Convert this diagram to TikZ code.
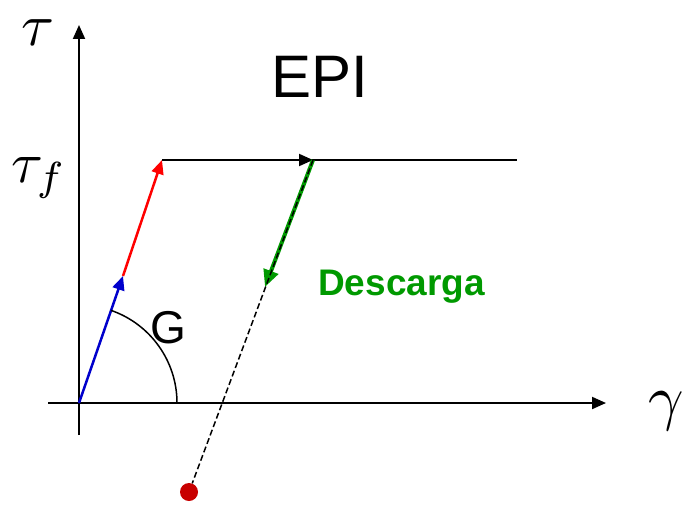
\documentclass[tikz,border=0pt]{standalone}
\usepackage{fontspec}
\setmainfont{Liberation Sans}
\usetikzlibrary{arrows.meta}
\definecolor{verde}{RGB}{0,153,0}
\definecolor{rojo}{RGB}{200,0,0}
\begin{document}
\begin{tikzpicture}[x=1pt, y=-1pt,
	punta/.style={-{Triangle[length=14pt, width=12pt]}},
	eje/.style={line width=2pt, punta},
	tramo/.style={line width=2.5pt, punta}]
	\useasboundingbox (0,0) rectangle (684,505);
	% ejes
	\coordinate (O) at (79,403);
	\coordinate (xini) at (48,403);
	\coordinate (xfin) at (606,403);
	\coordinate (yini) at (79,435);
	\coordinate (yfin) at (79,25);
	\draw[eje] (xini) -- (xfin);
	\draw[eje] (yini) -- (yfin);
	\node[anchor=base, inner sep=0pt, scale=6] (tau) at (38,46) {$\tau$};
	\node[anchor=base west, inner sep=0pt, scale=5.8] (tauf) at (10,182) {$\tau_f$};
	\node[anchor=base west, inner sep=0pt, scale=6.2] (gamma) at (647,418) {$\gamma$};
	% puntos
	\coordinate (A) at (123,276);
	\coordinate (B) at (162,160);
	\coordinate (C) at (313,160);
	\coordinate (D) at (517,160);
	\coordinate (E) at (265,287);
	\node[circle, fill=rojo, minimum size=18pt, inner sep=0pt] (P) at (189,492) {};
	% trayectoria
	\draw[line width=2pt] (B) -- (D);
	\draw[tramo, red] (A) -- (B);
	\draw[tramo, blue!80!black] (O) -- (A);
	\draw[line width=2pt, punta] (B) -- (C);
	\draw[line width=4pt, verde, -{Triangle[length=17pt, width=15pt]}] (C) -- (E);
	\draw[line width=1.5pt, dash pattern=on 6pt off 3pt] (C) -- (P);
	% angulo G
	\draw[line width=1.5pt] (O) ++(98,0) arc[start angle=0, end angle=71, radius=98pt];
	\node[anchor=base] (G) at (168,343) {\fontsize{46}{46}\selectfont G};
	% textos
	\node[anchor=base] (epi) at (320,98) {\fontsize{60}{60}\selectfont EPI};
	\node[anchor=base west, inner sep=0pt, text=verde] (desc) at (318,295) {\fontsize{37}{37}\selectfont\bfseries Descarga};
\end{tikzpicture}
\end{document}
